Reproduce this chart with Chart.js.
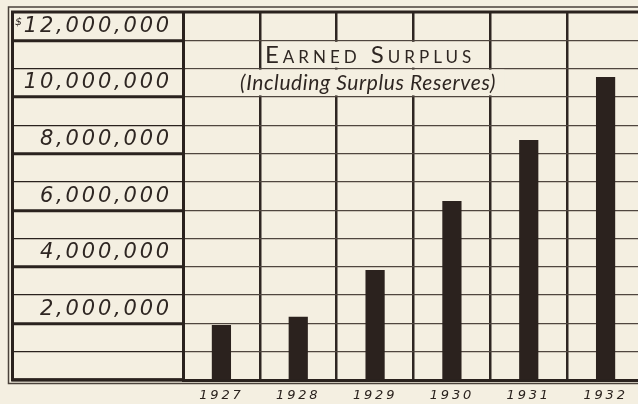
<!DOCTYPE html>
<html><head><meta charset="utf-8">
<script src="https://cdn.jsdelivr.net/npm/chart.js@4.4.1/dist/chart.umd.min.js"></script>
<style>
html,body{margin:0;padding:0;background:#f4efe1;overflow:hidden;}
#wrap{width:646px;height:404px;position:relative;}
</style></head><body>
<div id="wrap"><canvas id="c"></canvas></div>
<script>
const years = ['1927', '1928', '1929', '1930', '1931', '1932'];
const earnedSurplus = [1940000, 2230000, 3890000, 6320000, 8480000, 10700000];
const tickValues = [2000000, 4000000, 6000000, 8000000, 10000000, 12000000];
const tickTexts = ['2,000,000', '4,000,000', '6,000,000', '8,000,000', '10,000,000', '12,000,000'];
const titleText = 'Earned Surplus';
const subtitleText = '(Including Surplus Reserves)';

const BG = '#f4efe1', INK = '#2a221e', GRID = '#4f463f';

const paper = {
  id: 'paper',
  beforeDraw(chart) {
    const ctx = chart.ctx;
    ctx.save();
    ctx.fillStyle = BG;
    ctx.fillRect(0, 0, chart.width, chart.height);
    ctx.restore();
    ctx.letterSpacing = '2.8px';
  },
  afterDraw(chart) {
    const ctx = chart.ctx, y = chart.scales.y, a = chart.chartArea;
    ctx.letterSpacing = '0px';
    const catW = (a.right - a.left) / years.length;
    const b1 = a.left + catW, b4 = a.left + 4 * catW;
    const y12 = y.getPixelForValue(12000000), y11 = y.getPixelForValue(11000000), y10 = y.getPixelForValue(10000000);
    ctx.save();
    ctx.fillStyle = BG;
    ctx.fillRect(b1 + 2, y12 + 1.5, b4 - b1 - 4, y11 - y12 - 2.5);
    ctx.fillRect(a.left + 3, y11 + 1, b4 + 14 - a.left - 3, y10 - y11 - 2.5);
    ctx.fillStyle = '#2e2622';
    ctx.textAlign = 'center';
    ctx.textBaseline = 'middle';
    const cx = (b1 + b4) / 2 - 7;
    ctx.font = 'small-caps 400 24px Lato';
    ctx.letterSpacing = '4px';
    ctx.fillText(titleText, cx + 2, (y12 + y11) / 2 + 1);
    ctx.font = 'italic 400 21px Lato';
    ctx.letterSpacing = '0.6px';
    ctx.fillText(subtitleText, cx, (y11 + y10) / 2);
    ctx.letterSpacing = '0px';
    ctx.font = 'oblique 11px "DejaVu Sans"';
    ctx.textAlign = 'right';
    ctx.fillText('$', 22, y12 - 18);
    // frame
    ctx.strokeStyle = '#4a423b';
    ctx.lineWidth = 1.5;
    ctx.beginPath();
    ctx.moveTo(chart.width, 7); ctx.lineTo(8.5, 7); ctx.lineTo(8.5, 383.5); ctx.lineTo(chart.width, 383.5);
    ctx.stroke();
    ctx.strokeStyle = INK;
    ctx.lineWidth = 3;
    ctx.beginPath();
    ctx.moveTo(chart.width, a.top); ctx.lineTo(12.5, a.top); ctx.lineTo(12.5, a.bottom); ctx.lineTo(a.left, a.bottom);
    ctx.stroke();
    ctx.restore();
  }
};

new Chart(document.getElementById('c'), {
  type: 'bar',
  data: {
    labels: years,
    datasets: [{
      data: earnedSurplus,
      backgroundColor: '#2b221e',
      borderWidth: 0,
      categoryPercentage: 1,
      barPercentage: 0.25
    }]
  },
  options: {
    responsive: true,
    maintainAspectRatio: false,
    animation: false,
    devicePixelRatio: 1,
    layout: { padding: { top: 12, right: 2, left: 0, bottom: 0 } },
    plugins: { legend: { display: false }, tooltip: { enabled: false } },
    scales: {
      x: {
        offset: true,
        afterFit(s) { s.height = 24; },
        grid: { offset: true, lineWidth: 2.5, color: '#2e2622', drawTicks: false },
        border: { display: true, width: 3, color: INK },
        ticks: { font: { family: 'DejaVu Sans', style: 'oblique', size: 13 }, color: '#2a221e', padding: 8 }
      },
      y: {
        min: 0, max: 13000000,
        afterFit(s) { s.width = 183; },
        afterBuildTicks(s) {
          const t = [];
          for (let v = 0; v <= 13000000; v += 1000000) t.push({ value: v });
          s.ticks = t;
        },
        border: { display: true, width: 3, color: INK },
        grid: {
          color: GRID,
          lineWidth: 1.3,
          tickLength: 171,
          tickColor: INK,
          tickWidth: c => (c.tick && c.tick.value % 2000000 === 0) ? 3 : 1.3
        },
        ticks: {
          autoSkip: false,
          padding: -160,
          labelOffset: -14,
          color: '#2e2622',
          font: { family: 'DejaVu Sans', style: 'oblique', size: 21 },
          callback(v) { const i = tickValues.indexOf(v); return i >= 0 ? tickTexts[i] : ''; }
        }
      }
    }
  },
  plugins: [paper]
});
</script>
</body></html>
